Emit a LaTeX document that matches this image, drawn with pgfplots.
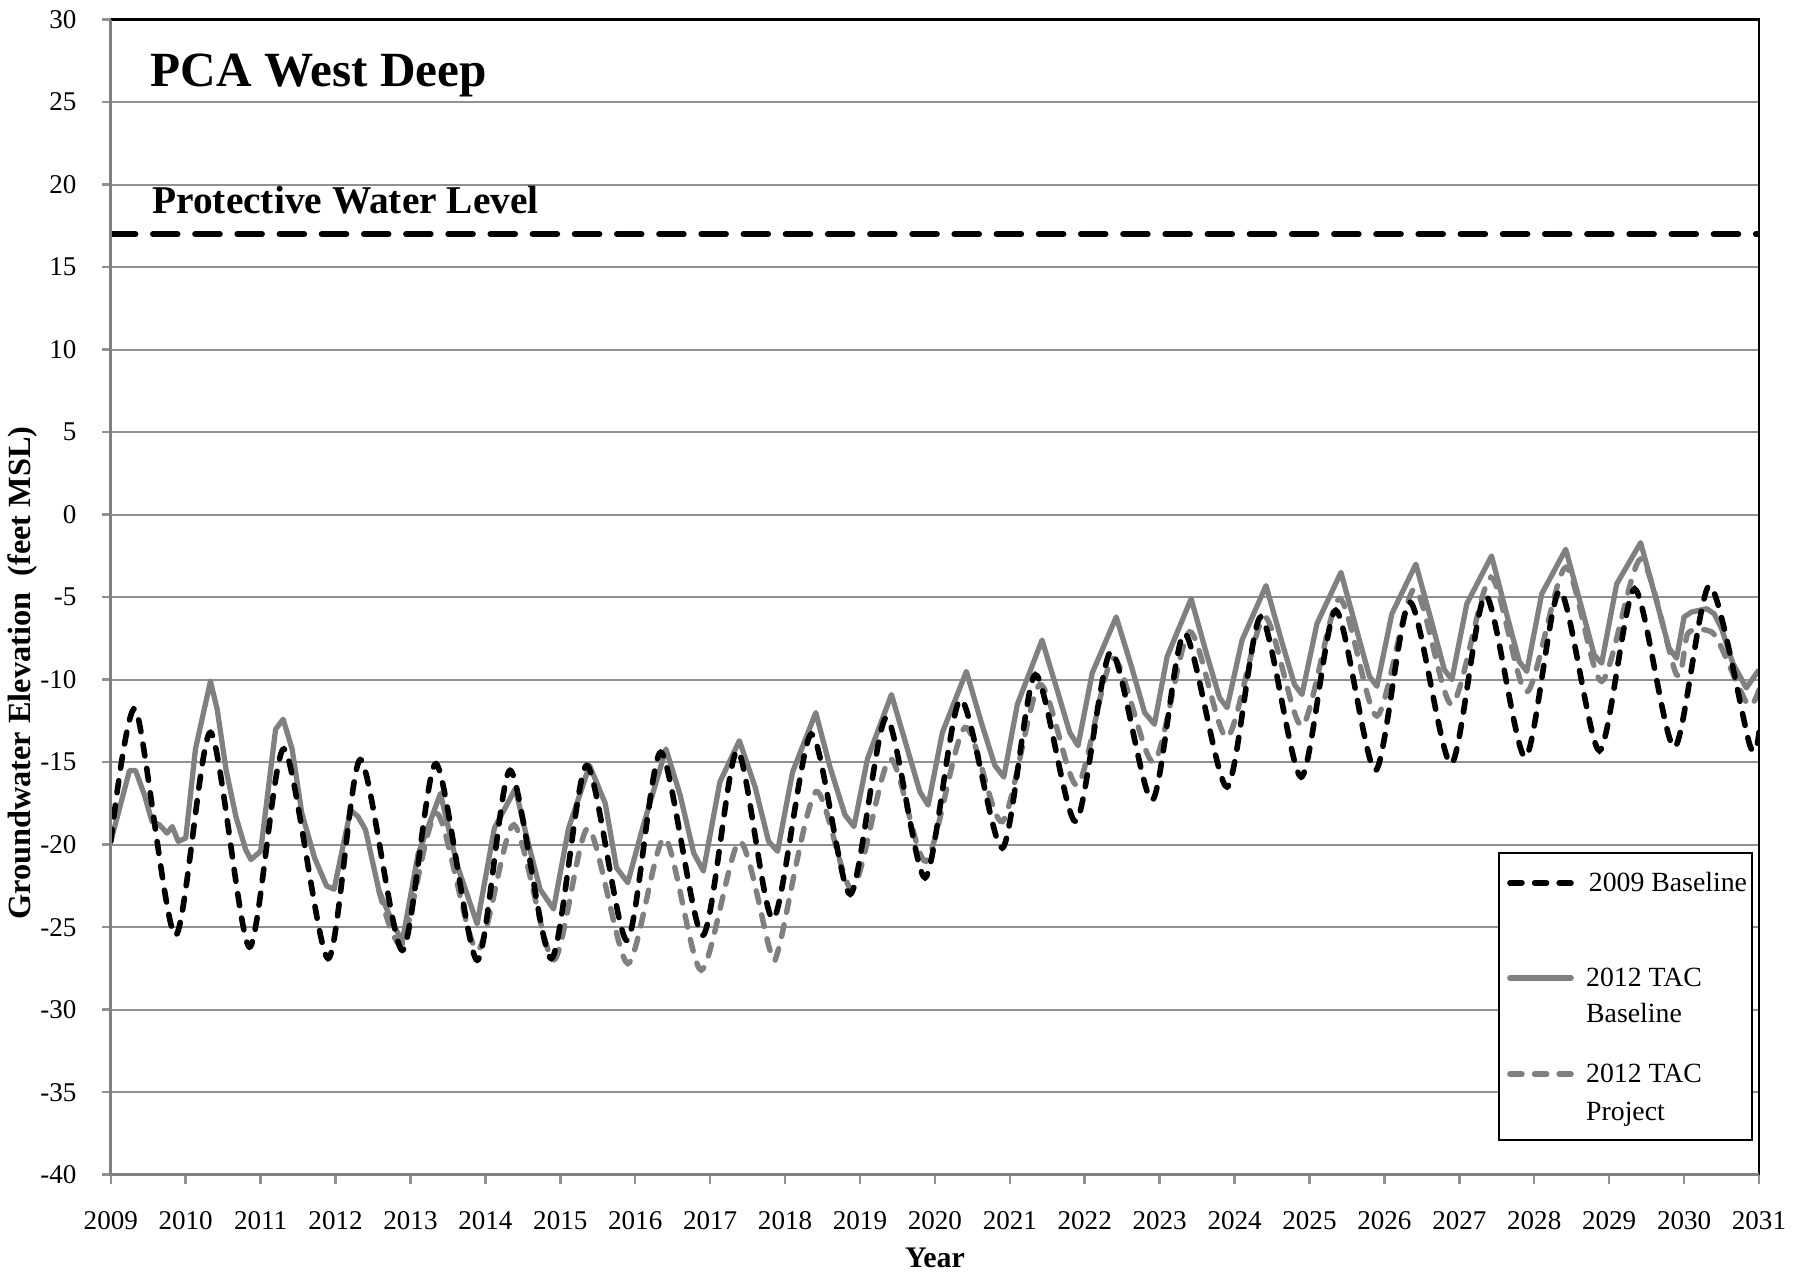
\documentclass[border=0pt]{standalone}
\usepackage{fontspec}
\setmainfont{Liberation Serif}
\usepackage{pgfplots}
\pgfplotsset{compat=1.18}
\definecolor{sgray}{RGB}{128,128,128}
\definecolor{ggray}{RGB}{145,145,145}
\begin{document}
\begin{tikzpicture}
\useasboundingbox (-1.108,-0.995) rectangle (16.98,11.746);
\begin{axis}[at={(0,0)}, anchor=south west, scale only axis,
  width=16.48cm, height=11.55cm,
  xmin=2009, xmax=2031, ymin=-40, ymax=30,
  xtick={2009,2010,...,2031}, ytick={-40,-35,...,30},
  ymajorgrids, grid style={ggray, line width=0.6pt},
  axis line style={draw=none},
  tick align=outside, tick pos=left,
  major tick length=0.09cm,
  tick style={ggray, line width=0.7pt},
  /pgf/number format/assume math mode=true,
  /pgf/number format/1000 sep={},
  ticklabel style={font=\fontsize{7.7}{9}\selectfont},
  xticklabel style={yshift=-0.15cm},
  yticklabel style={xshift=-0.13cm},
]
% 2012 TAC Baseline (grey solid)
\addplot[sgray, line width=1.5pt, line join=round] coordinates {
(2009.0,-19.8) (2009.25,-15.5) (2009.33,-15.5) (2009.45,-17.0) (2009.55,-18.6)
(2009.65,-18.8) (2009.75,-19.3) (2009.82,-18.9) (2009.9,-19.8) (2010.0,-19.6)
(2010.13,-14.2) (2010.33,-10.1) (2010.42,-11.8) (2010.54,-15.5) (2010.67,-18.3)
(2010.8,-20.3) (2010.87,-20.9) (2011.0,-20.4) (2011.2,-13.0) (2011.3,-12.4)
(2011.42,-14.2) (2011.55,-18.1) (2011.72,-20.8) (2011.88,-22.5) (2011.98,-22.7)
(2012.2,-17.9) (2012.3,-18.3) (2012.4,-19.1) (2012.58,-22.8) (2012.75,-24.6)
(2012.89,-25.9) (2013.1,-20.6) (2013.4,-16.9) (2013.62,-21.2) (2013.89,-24.8)
(2014.12,-19.0) (2014.4,-16.6) (2014.55,-19.5) (2014.73,-22.7) (2014.91,-23.9)
(2015.11,-19.0) (2015.39,-15.2) (2015.6,-17.5) (2015.75,-21.4) (2015.9,-22.3)
(2016.11,-18.8) (2016.41,-14.2) (2016.6,-17.0) (2016.78,-20.5) (2016.91,-21.6)
(2017.13,-16.2) (2017.39,-13.7) (2017.6,-16.5) (2017.78,-19.8) (2017.9,-20.4)
(2018.1,-15.6) (2018.41,-12.0) (2018.6,-15.3) (2018.8,-18.2) (2018.92,-18.9)
(2019.1,-14.8) (2019.42,-10.9) (2019.62,-14.0) (2019.8,-16.8) (2019.91,-17.6)
(2020.1,-13.2) (2020.42,-9.5) (2020.62,-12.6) (2020.8,-15.2) (2020.92,-15.9)
(2021.1,-11.5) (2021.43,-7.6) (2021.63,-10.6) (2021.8,-13.2) (2021.91,-14.0)
(2022.1,-9.6) (2022.42,-6.2) (2022.63,-9.3) (2022.8,-12.0) (2022.93,-12.7)
(2023.1,-8.6) (2023.42,-5.1) (2023.63,-8.5) (2023.8,-11.1) (2023.9,-11.7)
(2024.1,-7.6) (2024.42,-4.3) (2024.63,-7.7) (2024.8,-10.3) (2024.9,-10.9)
(2025.1,-6.6) (2025.42,-3.5) (2025.63,-7.0) (2025.8,-9.8) (2025.9,-10.4)
(2026.1,-6.0) (2026.42,-3.0) (2026.63,-6.5) (2026.8,-9.4) (2026.9,-10.0)
(2027.1,-5.4) (2027.43,-2.5) (2027.63,-6.0) (2027.8,-8.9) (2027.9,-9.5)
(2028.1,-4.8) (2028.42,-2.1) (2028.63,-5.6) (2028.8,-8.5) (2028.9,-9.0)
(2029.1,-4.2) (2029.42,-1.7) (2029.63,-5.2) (2029.8,-8.1) (2029.9,-8.7)
(2030.0,-6.2) (2030.1,-5.9) (2030.3,-5.7) (2030.4,-6.0) (2030.5,-6.9)
(2030.65,-9.0) (2030.83,-10.5) (2031.0,-9.4)
};
% 2012 TAC Project (grey dashed)
\addplot[sgray, line width=1.55pt, line cap=round, dash pattern=on 3.4pt off 3.6pt, smooth, tension=0.45] coordinates {
(2012.58,-22.8) (2012.89,-26.0) (2013.35,-18.1) (2013.89,-26.4) (2014.38,-18.8)
(2014.91,-27.0) (2015.37,-19.0) (2015.9,-27.2) (2016.39,-19.6) (2016.88,-27.6)
(2017.39,-19.8) (2017.8,-26.4) (2017.92,-26.2) (2018.41,-16.8) (2018.9,-22.7)
(2019.4,-14.8) (2019.88,-21.0) (2020.4,-12.9) (2020.9,-18.6) (2021.4,-10.3)
(2021.9,-16.4) (2022.38,-8.7) (2022.92,-15.0) (2023.4,-7.1) (2023.9,-13.5)
(2024.4,-6.2) (2024.9,-12.8) (2025.4,-5.1) (2025.9,-12.2) (2026.4,-4.5)
(2026.9,-11.5) (2027.42,-3.8) (2027.9,-10.75) (2028.42,-3.2) (2028.9,-10.1)
(2029.42,-2.7) (2029.9,-9.7) (2030.05,-7.2) (2030.3,-7.0) (2030.45,-7.6)
(2030.85,-11.5) (2031.0,-10.6)
};
% 2009 Baseline (black dashed)
\addplot[black, line width=1.6pt, line cap=round, dash pattern=on 3.4pt off 3.6pt, smooth, tension=0.45] coordinates {
(2009.0,-19.8) (2009.33,-11.8) (2009.86,-25.5) (2010.33,-13.2) (2010.85,-26.2)
(2011.31,-14.2) (2011.9,-26.9) (2012.33,-14.85) (2012.89,-26.4) (2013.34,-15.1)
(2013.89,-27.0) (2014.33,-15.5) (2014.88,-26.9) (2015.35,-15.2) (2015.89,-25.8)
(2016.34,-14.4) (2016.9,-25.5) (2017.36,-14.3) (2017.84,-24.5) (2018.35,-13.3)
(2018.87,-23.0) (2019.35,-12.3) (2019.87,-22.0) (2020.34,-11.2) (2020.9,-20.2)
(2021.34,-9.7) (2021.88,-18.6) (2022.35,-8.3) (2022.9,-17.3) (2023.33,-7.2)
(2023.9,-16.5) (2024.35,-6.2) (2024.89,-15.9) (2025.35,-5.8) (2025.88,-15.5)
(2026.34,-5.3) (2026.89,-15.1) (2027.35,-4.9) (2027.88,-14.7) (2028.34,-4.6)
(2028.87,-14.3) (2029.34,-4.5) (2029.87,-14.1) (2030.34,-4.3) (2030.88,-14.0)
(2031.0,-13.2)
};
% Protective Water Level
\addplot[black, line width=1.7pt, line cap=round, dash pattern=on 7pt off 5pt] coordinates {(2009,17) (2031,17)};
\end{axis}
% plot area border
\draw[black, line width=0.8pt] (0,11.55) -- (16.48,11.55) -- (16.48,0);
\draw[sgray, line width=0.8pt] (0,11.55) -- (0,0) -- (16.48,0);
% texts
\node[anchor=base west, inner sep=0, font=\fontsize{14}{16}\selectfont\bfseries] at (0.392,10.878) {PCA West Deep};
\node[anchor=base west, inner sep=0, font=\fontsize{11.2}{13}\selectfont\bfseries] at (0.409,9.615) {Protective Water Level};
\node[rotate=90, inner sep=0, font=\fontsize{9.2}{11}\selectfont\bfseries] at (-0.878,5.015) {Groundwater Elevation\ \ (feet MSL)};
\node[inner sep=0, font=\fontsize{8.5}{10}\selectfont\bfseries] at (8.24,-0.835) {Year};
% legend
\draw[fill=white, line width=0.6pt] (13.882,0.345) rectangle (16.412,3.215);
\draw[black, line width=1.6pt, line cap=round, dash pattern=on 3.4pt off 3.6pt] (13.99,2.918) -- (14.60,2.918);
\draw[sgray, line width=1.6pt, line cap=round] (13.99,1.968) -- (14.60,1.968);
\draw[sgray, line width=1.6pt, line cap=round, dash pattern=on 3.4pt off 3.6pt] (13.99,1.005) -- (14.60,1.005);
\begin{scope}[every node/.style={anchor=base west, inner sep=0, font=\fontsize{7.9}{10}\selectfont}]
\node at (14.772,2.833) {2009 Baseline};
\node at (14.745,1.878) {2012 TAC};
\node at (14.745,1.522) {Baseline};
\node at (14.745,0.918) {2012 TAC};
\node at (14.745,0.538) {Project};
\end{scope}
\end{tikzpicture}
\end{document}
